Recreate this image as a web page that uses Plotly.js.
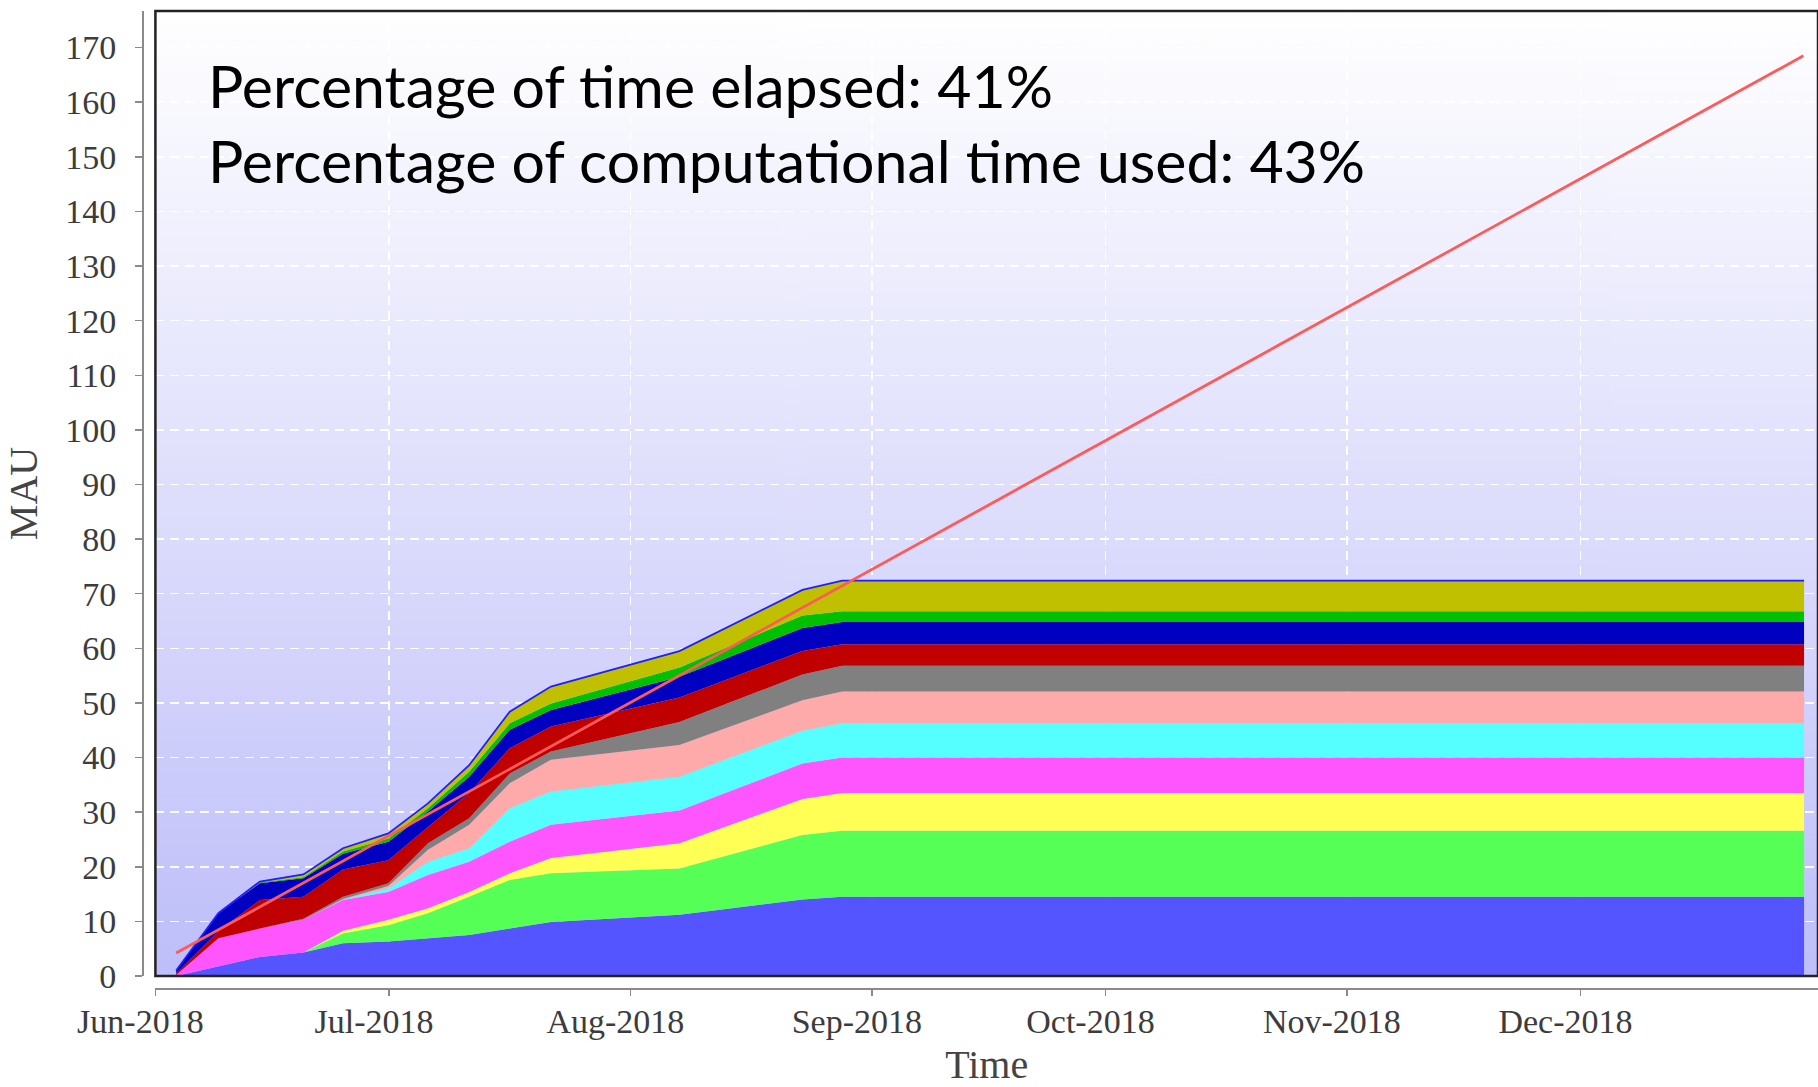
<!DOCTYPE html>
<html><head><meta charset="utf-8">
<script src="https://cdn.plot.ly/plotly-3.0.1.min.js"></script>
<style>html,body{margin:0;padding:0;background:#fff}#chart{width:1818px;height:1087px}</style>
</head><body><div id="chart"></div>
<script>
// ---- data ----
const dates = ['2018-06-03 16:00','2018-06-09 02:00','2018-06-14 10:00','2018-06-20 00:00','2018-06-25 02:00','2018-06-30 22:00','2018-07-06 00:00','2018-07-11 07:00','2018-07-16 12:00','2018-07-21 19:00','2018-08-07 07:00','2018-08-23 02:00','2018-08-28 05:00','2018-12-29 17:00'];
const s1  = [0, 1.8, 3.5, 4.3, 6.0, 6.3, 6.9, 7.5, 8.7, 9.9, 11.2, 14.0, 14.5, 14.5];
const s2  = [0, 0, 0, 0, 1.8, 3.0, 4.6, 7.0, 8.9, 8.9, 8.5, 11.8, 12.1, 12.1];
const s3  = [0, 0, 0, 0, 0.5, 1.0, 0.9, 0.9, 1.2, 2.8, 4.6, 6.6, 6.9, 6.9];
const s4  = [0.2, 5.1, 5.2, 6.0, 5.6, 5.1, 6.1, 5.5, 5.8, 6.1, 6.0, 6.5, 6.5, 6.5];
const s5  = [0, 0, 0, 0, 0.1, 0.6, 2.4, 2.5, 6.1, 6.1, 6.2, 6.0, 6.3, 6.3];
const s6  = [0, 0, 0, 0, 0.1, 0.5, 2.2, 4.3, 4.6, 5.8, 5.8, 5.6, 5.8, 5.8];
const s7  = [0, 0, 0, 0.2, 0.4, 0.5, 1.2, 1.2, 1.8, 1.5, 4.2, 4.7, 4.7, 4.7];
const s8  = [0.3, 1.3, 5.2, 4.0, 5.0, 4.2, 3.0, 4.6, 4.6, 4.6, 4.5, 4.3, 3.95, 3.95];
const s9  = [0.5, 3.3, 3.1, 3.4, 2.9, 3.4, 2.8, 3.0, 3.4, 3.0, 3.8, 4.2, 4.05, 4.05];
const s10 = [0, 0, 0.1, 0.2, 0.4, 0.6, 0.6, 0.9, 1.2, 1.2, 1.7, 2.3, 2.0, 2.0];
const s11 = [0, 0, 0.2, 0.5, 0.6, 0.9, 0.9, 1.2, 2.1, 3.1, 3.0, 4.7, 5.6, 5.6];
const trendDates = ['2018-06-03 16:00','2018-12-29 15:00'];
const trendValues = [4.2, 168.5];
const xRange = ['2018-06-01', '2018-12-31 12:00'];
const yRange = [0, 176.7];
const annotationLines = ['Percentage of time elapsed: 41%', 'Percentage of computational time used: 43%'];

// ---- styles ----
const seriesList = [s1,s2,s3,s4,s5,s6,s7,s8,s9,s10,s11];
const colors = ['#5555ff','#55ff55','#ffff55','#ff55ff','#55ffff','#ffaaaa','#808080','#c00000','#0000c0','#00c000','#c0c000'];

const traces = seriesList.map((v, i) => ({
  type: 'scatter', mode: 'lines', x: dates, y: v,
  stackgroup: 'one', name: 'Series ' + (i + 1),
  fillcolor: colors[i],
  line: i === seriesList.length - 1 ? {color: '#1f1fff', width: 1.8} : {color: colors[i], width: 0},
  hoverinfo: 'x+y'
}));
traces.push({
  type: 'scatter', mode: 'lines', x: trendDates, y: trendValues, name: 'Target',
  line: {color: '#ff5a5a', width: 2.8}
});

// background gradient as an image
const cv = document.createElement('canvas'); cv.width = 4; cv.height = 512;
const cx = cv.getContext('2d');
const gr = cx.createLinearGradient(0, 0, 0, 512);
gr.addColorStop(0, '#ffffff');
gr.addColorStop(1, 'rgb(190,190,250)');
cx.fillStyle = gr; cx.fillRect(0, 0, 4, 512);
const bg = cv.toDataURL('image/png');

const W = 1818, H = 1087;
const mL = 143, mR = 0, mT = 11, mB = 98;
const pw = W - mL - mR, ph = H - mT - mB;
const xd0 = (155.4 - mL) / pw;
const yd0 = 13 / ph;

const tickFont = {family: 'Liberation Serif, Times New Roman, serif', size: 34, color: '#3c3c3c'};
const titleFont = {family: 'Liberation Serif, Times New Roman, serif', size: 40, color: '#444'};
const annFont = {family: 'Lato, Open Sans, sans-serif', size: 59, color: '#000'};

const layout = {
  width: W, height: H,
  margin: {l: mL, r: mR, t: mT, b: mB, pad: 0},
  paper_bgcolor: '#ffffff', plot_bgcolor: 'rgba(0,0,0,0)',
  showlegend: false,
  xaxis: {
    type: 'date', range: xRange, domain: [xd0, 1], anchor: 'free', position: 0,
    dtick: 'M1', tick0: '2018-06-01', tickformat: '%b-%Y',
    showline: true, linecolor: '#8a8a8a', linewidth: 2,
    ticks: 'outside', ticklen: 6, tickwidth: 1.5, tickcolor: '#8a8a8a',
    ticklabelstandoff: -4, ticklabelshift: -15,
    showgrid: true, gridcolor: 'rgba(255,255,255,0.95)', gridwidth: 1.5, griddash: '9px,6px',
    zeroline: false, tickfont: tickFont,
    title: {text: 'Time', font: titleFont, standoff: 30},
    automargin: false
  },
  yaxis: {
    range: yRange, domain: [yd0, 1], anchor: 'free', position: 0,
    dtick: 10, tick0: 0,
    showline: true, linecolor: '#8a8a8a', linewidth: 2,
    ticks: 'outside', ticklen: 7, tickwidth: 1.5, tickcolor: '#8a8a8a',
    ticklabelstandoff: 12,
    showgrid: true, gridcolor: 'rgba(255,255,255,0.95)', gridwidth: 1.5, griddash: '9px,6px',
    zeroline: false, tickfont: tickFont,
    title: {text: 'MAU', font: titleFont, standoff: 14},
    automargin: false
  },
  images: [{
    source: bg, xref: 'paper', yref: 'paper', x: xd0, y: 1,
    sizex: 1 - xd0, sizey: 1 - yd0, xanchor: 'left', yanchor: 'top',
    sizing: 'stretch', layer: 'below'
  }],
  shapes: [{
    type: 'rect', xref: 'x domain', yref: 'y domain', x0: 0, x1: 1, y0: 0, y1: 1,
    line: {color: '#222', width: 2.5}, fillcolor: 'rgba(0,0,0,0)', layer: 'above'
  }],
  annotations: [
    {text: annotationLines[0], xref: 'paper', yref: 'paper', x: (206 - mL) / pw, y: (H - mB - 85.5) / ph,
     xanchor: 'left', yanchor: 'middle', showarrow: false, font: annFont},
    {text: annotationLines[1], xref: 'paper', yref: 'paper', x: (206 - mL) / pw, y: (H - mB - 160.5) / ph,
     xanchor: 'left', yanchor: 'middle', showarrow: false, font: annFont}
  ]
};

Plotly.newPlot('chart', traces, layout, {displayModeBar: false, staticPlot: true});
</script></body></html>
